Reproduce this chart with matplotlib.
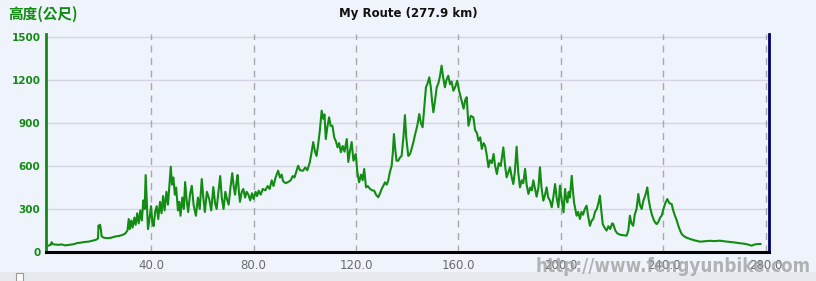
import matplotlib
matplotlib.use("Agg")
import matplotlib.pyplot as plt
from matplotlib.patches import Rectangle

# ---- data ----
distance_km = [
    0.0, 0.8, 1.2, 1.6, 2.5, 4, 5, 6.5, 8, 10, 11, 12.5, 14, 15.5, 17, 18.5, 19.3, 19.5, 19.8, 20.1,
    20.4, 20.7, 21.5, 23, 24.5, 26, 27.5, 29, 30, 30.8, 31.3, 31.7, 32.3, 32.8, 33.5, 34, 34.6, 35.2,
    35.8, 36.4, 37.0, 37.5, 37.9, 38.4, 38.8, 39.4, 40.0, 40.5, 41.0, 41.6, 42.2, 42.8, 43.5, 44.1,
    44.7, 45.3, 46.0, 46.6, 47.2, 47.7, 48.2, 48.7, 49.3, 49.8, 50.5, 51.0, 51.5, 52.2, 52.8, 53.3,
    53.9, 54.5, 55.2, 55.9, 56.6, 57.5, 58.3, 59.0, 59.8, 60.4, 61.0, 61.8, 62.7, 63.5, 64.3, 65.0,
    65.6, 66.3, 67.0, 67.6, 68.3, 69.0, 69.6, 70.3, 71.0, 71.7, 72.3, 72.8, 73.3, 73.8, 74.3, 74.7,
    75.4, 76.0, 76.7, 77.3, 78.0, 78.7, 79.4, 80.0, 80.8, 81.4, 82.0, 82.8, 83.6, 84.6, 85.5, 86.3,
    87.1, 87.8, 88.6, 89.6, 90.3, 91.0, 91.5, 92.5, 93.5, 94.5, 95.3, 96.0, 96.7, 97.4, 98.2, 99.3,
    100.2, 101.0, 102.0, 102.7, 103.3, 104.0, 104.6, 105.3, 105.9, 106.6, 107.2, 107.7, 108.2, 108.8,
    109.5, 110.1, 110.8, 111.5, 112.2, 112.8, 113.4, 114.1, 114.8, 115.5, 116.4, 117.0, 117.6, 118.3,
    119.0, 119.9, 120.5, 121.2, 122.0, 122.6, 123.2, 123.9, 124.6, 125.5, 126.3, 127.1, 127.8, 128.7,
    129.4, 130.0, 130.7, 131.3, 132.0, 132.6, 133.2, 133.9, 134.4, 134.8, 135.3, 135.8, 136.5, 137.2,
    137.8, 138.5, 139.1, 139.6, 140.4, 141.1, 141.7, 142.4, 143.2, 143.9, 144.7, 145.3, 146.0, 146.6,
    147.3, 148.0, 148.6, 149.2, 149.7, 150.2, 150.8, 151.5, 152.2, 152.8, 153.4, 154.0, 154.7, 155.3,
    156.0, 156.7, 157.3, 158.0, 158.7, 159.5, 160.3, 161.2, 162.0, 162.6, 163.2, 163.9, 164.8, 165.8,
    166.5, 167.2, 167.8, 168.5, 169.1, 169.8, 170.4, 171.0, 171.7, 172.3, 173.0, 173.7, 174.3, 175.0,
    175.7, 176.5, 177.5, 178.2, 178.8, 179.5, 180.1, 180.8, 181.4, 182.0, 182.7, 183.3, 184.0, 184.7,
    185.3, 186.0, 186.6, 187.3, 188.0, 188.6, 189.2, 189.9, 190.5, 191.2, 191.8, 192.4, 193.1, 193.8,
    194.4, 195.0, 195.7, 196.4, 197.0, 197.7, 198.3, 199.0, 199.6, 200.3, 201.0, 201.6, 202.0, 202.5,
    203.0, 203.5, 204.2, 204.7, 205.1, 205.6, 206.1, 206.7, 207.4, 208.0, 208.6, 209.3, 210.0, 210.6,
    211.3, 212.0, 212.6, 213.3, 214.0, 214.6, 215.2, 215.8, 216.3, 217.0, 217.8, 218.5, 219.2, 220.0,
    220.4, 221.2, 222.0, 222.4, 223.2, 224.0, 225.0, 225.6, 226.3, 226.9, 227.5, 228.2, 228.8, 229.5,
    230.2, 230.8, 231.5, 232.2, 233.0, 233.7, 234.2, 234.8, 235.5, 236.3, 237.0, 237.4, 238.0, 238.7,
    239.3, 240.0, 240.7, 241.5, 242.3, 243.2, 243.8, 244.5, 245.2, 245.8, 246.5, 247.1, 248.0, 249.0,
    250.4, 252.0, 254.3, 256.0, 258.0, 260.0, 262.0, 264.0, 266.0, 268.0, 269.8, 271.5, 273.0, 274.4,
    275.5, 276.5, 277.9,
]
elevation_m = [
    45, 50, 68, 55, 52, 50, 53, 46, 50, 55, 62, 65, 70, 72, 78, 85, 95, 185, 170, 190,
    160, 110, 100, 96, 100, 108, 112, 120, 130, 150, 230, 160, 220, 170, 240, 190, 270, 200,
    290, 220, 360, 300, 537, 330, 160, 230, 320, 210, 180, 280, 320, 230, 350, 270,
    390, 290, 420, 330, 480, 595, 470, 520, 400, 450, 290, 350, 253, 380, 300, 488,
    360, 279, 400, 462, 330, 253, 380, 300, 509, 380, 279, 420, 370, 290, 453, 340,
    300, 420, 530, 380, 300, 420, 370, 330, 450, 550, 450, 400, 480, 537, 420, 350,
    420, 440, 380, 420, 400, 360, 410, 370, 420, 390, 428, 400, 440, 430, 460, 440,
    500, 460, 520, 567, 520, 540, 495, 480, 488, 500, 530, 520, 560, 602, 570, 567,
    590, 570, 628, 700, 767, 700, 670, 760, 850, 986, 930, 960, 788, 870,
    940, 880, 881, 800, 770, 730, 760, 696, 740, 700, 788, 628, 700, 767,
    637, 684, 560, 486, 540, 500, 579, 451, 460, 440, 430, 428, 400, 382,
    410, 440, 463, 486, 470, 500, 556, 600, 700, 823, 720, 637, 637, 660,
    670, 800, 955, 800, 670, 684, 720, 767, 830, 880, 963, 900, 870, 1000,
    1149, 1180, 1219, 1150, 1050, 975, 1050, 1149, 1180, 1230, 1300, 1220, 1149, 1200,
    1230, 1170, 1190, 1125, 1150, 1195, 1120, 1056, 1000, 1060, 1080, 881, 950, 940,
    850, 830, 777, 800, 719, 760, 740, 680, 591, 640, 620, 684, 600, 544,
    620, 600, 730, 600, 521, 560, 591, 520, 474, 560, 735, 560, 451, 500,
    480, 580, 470, 405, 450, 430, 500, 440, 386, 450, 591, 450, 358, 400,
    451, 380, 360, 312, 380, 474, 380, 312, 463, 360, 277, 440, 380, 346,
    420, 380, 532, 420, 346, 300, 253, 280, 230, 280, 260, 300, 323, 250,
    183, 220, 230, 280, 300, 340, 393, 280, 195, 170, 149, 180, 160, 200,
    195, 150, 130, 126, 120, 118, 115, 114, 150, 253, 200, 183, 260, 300,
    405, 330, 300, 360, 400, 451, 370, 310, 260, 220, 200, 195, 210, 240,
    253, 300, 340, 370, 340, 335, 290, 253, 220, 183, 150, 126, 110, 100,
    91, 82, 72, 75, 78, 76, 79, 74, 70, 66, 61, 58, 52, 44,
    52, 55, 56,
]
x_ticks = [40, 80, 120, 160, 200, 240, 280]
x_tick_labels = ["40.0", "80.0", "120.0", "160.0", "200.0", "240.0", "280.0"]
y_ticks = [0, 300, 600, 900, 1200, 1500]
y_tick_labels = ["0", "300", "600", "900", "1200", "1500"]
title_text = "My Route (277.9 km)"
y_title = "高度(公尺)"
watermark = "http://www.fengyunbike.com"

# ---- figure ----
W, H = 816, 281
bg = "#EFF4FC"
fig = plt.figure(figsize=(W / 100, H / 100), dpi=100, facecolor=bg)

left_px, right_px, bottom_px, top_px = 46, 769, 252, 34
ax = fig.add_axes([left_px / W, 1 - bottom_px / H,
                   (right_px - left_px) / W, (bottom_px - top_px) / H])
ax.set_facecolor(bg)

ax.plot(distance_km, elevation_m, color="#128c12", lw=1.5, zorder=3)

ax.set_xlim(-1, 281.2)
ax.set_ylim(0, 1521)

ax.set_yticks(y_ticks)
ax.set_yticklabels(y_tick_labels, color="#138a13", fontweight="bold", fontsize=7.5)
ax.set_xticks(x_ticks)
ax.set_xticklabels(x_tick_labels, color="#6a6a6a", fontsize=8.5)
ax.tick_params(axis="both", length=0)
ax.tick_params(axis="y", pad=4)
ax.tick_params(axis="x", pad=5)

for y in y_ticks[1:]:
    ax.axhline(y, color="#D4D4E2", lw=1.0, zorder=1)
for x in x_ticks:
    ax.axvline(x, color="#A8A8A8", lw=1.0, ls=(0, (5, 4)), zorder=1)

ax.spines["top"].set_visible(False)
ax.spines["left"].set_color("#138a13")
ax.spines["left"].set_linewidth(2)
ax.spines["bottom"].set_color("#000000")
ax.spines["bottom"].set_linewidth(2.2)
ax.spines["right"].set_color("#000066")
ax.spines["right"].set_linewidth(2)

fig.text(408 / W, 1 - 14 / H, title_text, ha="center", va="center",
         fontsize=8.5, color="#111111", fontweight="semibold")
fig.text(8 / W, 1 - 14 / H, y_title, ha="left", va="center", fontsize=10.5,
         color="#138a13", fontweight="bold", family=["Noto Sans CJK TC", "DejaVu Sans"])

# bottom scrollbar strip
fig.patches.append(Rectangle((0, 0), 1, 9 / H, transform=fig.transFigure,
                             facecolor="#E6E9EE", edgecolor="none", zorder=0))
fig.patches.append(Rectangle((16 / W, 0), 7 / W, 8 / H, transform=fig.transFigure,
                             facecolor="#FAFAFA", edgecolor="#9A9A9A", lw=0.8, zorder=1))

fig.text(811 / W, 1 - 267 / H, watermark, ha="right", va="center", fontsize=13.5,
         color="#9c9c9c", alpha=0.75, fontweight="bold", fontstretch="condensed",
         family=["DejaVu Sans"], zorder=10)

fig.savefig("out.png", dpi=100, facecolor=bg)
